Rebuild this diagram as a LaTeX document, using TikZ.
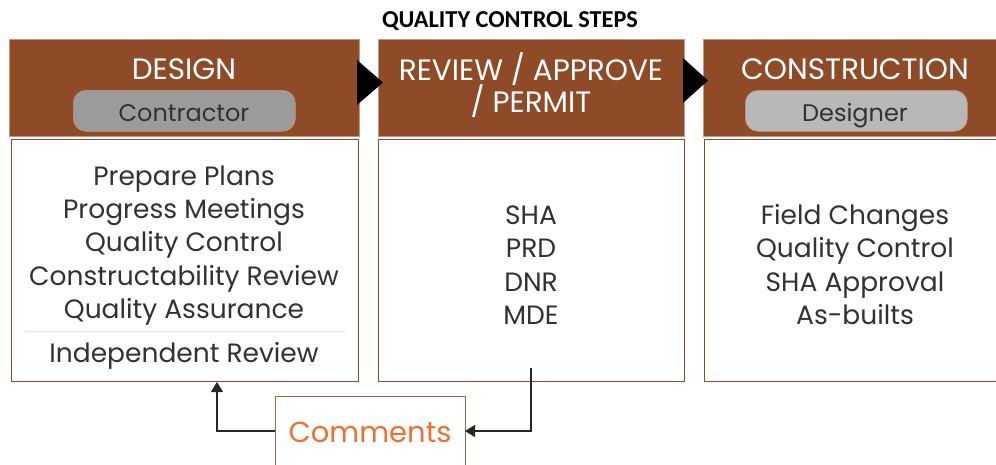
\documentclass[tikz,border=0pt]{standalone}
\usepackage{fontspec}
\setmainfont{Poppins}
\newfontfamily\titlefont{Carlito}
\usetikzlibrary{arrows.meta}
\definecolor{brn}{RGB}{143,74,40}
\definecolor{hdredge}{RGB}{200,150,125}
\definecolor{pillA}{RGB}{155,155,155}
\definecolor{pillB}{RGB}{184,184,184}
\definecolor{txt}{RGB}{50,50,50}
\definecolor{orng}{RGB}{240,112,48}
\definecolor{divl}{RGB}{225,225,225}
\tikzset{
  header/.style={fill=brn, draw=hdredge, line width=0.8pt, anchor=north west, inner sep=0pt},
  bodybox/.style={draw=brn, line width=1.4pt, fill=white, anchor=north west, inner sep=0pt},
  pill/.style={rounded corners=13pt, draw=hdredge, line width=0.6pt, anchor=north west, inner sep=0pt},
  htext/.style={text=white, font=\fontsize{29.5}{34}\selectfont, anchor=base, inner sep=0pt},
  ptext/.style={text=txt, font=\fontsize{24}{28}\selectfont, anchor=base, inner sep=0pt},
  btext/.style={text=txt, font=\fontsize{26.5}{31}\selectfont, anchor=base, inner sep=0pt},
  flow/.style={fill=black, draw=none},
  conn/.style={draw=black!85, line width=1.2pt, -{Triangle[length=10pt,width=12pt]}}
}
\begin{document}
\begin{tikzpicture}[x=1pt,y=-1pt]
\useasboundingbox (0,0) rectangle (996,464);
\clip (0,0) rectangle (996,464);
% title
\node[font=\titlefont\bfseries\fontsize{24.3}{28}\selectfont, anchor=base, inner sep=0pt] (title) at (510,27) {QUALITY CONTROL STEPS};
% headers
\node[header, minimum width=350pt, minimum height=97pt] (h1) at (9,39) {};
\node[header, minimum width=306pt, minimum height=97pt] (h2) at (378,39) {};
\node[header, minimum width=300pt, minimum height=97pt] (h3) at (703,39) {};
% flow triangles
\fill[flow] (357,60) -- (383,82.5) -- (357,105) -- cycle;
\fill[flow] (683,58) -- (708,80.5) -- (683,103) -- cycle;
% header texts
\node[htext] (t1) at (184,79) {DESIGN};
\node[htext] (t2a) at (531,80) {REVIEW / APPROVE};
\node[htext] (t2b) at (531,112) {/ PERMIT};
\node[htext] (t3) at (855,79) {CONSTRUCTION};
% pills
\node[pill, fill=pillA, minimum width=222pt, minimum height=41pt] (p1) at (73,90) {};
\node[pill, fill=pillB, minimum width=222pt, minimum height=41pt] (p3) at (745,90) {};
\node[ptext] (p1t) at (184,121) {Contractor};
\node[ptext] (p3t) at (855,121) {Designer};
% body boxes
\node[bodybox, minimum width=347pt, minimum height=242pt] (b1) at (11,139) {};
\node[bodybox, minimum width=306pt, minimum height=242pt] (b2) at (378,139) {};
\node[bodybox, minimum width=320pt, minimum height=242pt] (b3) at (704,139) {};
% left body text
\node[btext] (l1) at (184,185) {Prepare Plans};
\node[btext] (l2) at (184,218.3) {Progress Meetings};
\node[btext] (l3) at (184,251.7) {Quality Control};
\node[btext] (l4) at (184,285) {Constructability Review};
\node[btext] (l5) at (184,318) {Quality Assurance};
\coordinate (d1) at (25,331.5);
\coordinate (d2) at (345,331.5);
\draw[divl, line width=0.8pt] (d1) -- (d2);
\node[btext] (l6) at (184,362) {Independent Review};
% middle body text
\node[btext] (m1) at (531,224.3) {SHA};
\node[btext] (m2) at (531,257.7) {PRD};
\node[btext] (m3) at (531,291) {DNR};
\node[btext] (m4) at (531,324.3) {MDE};
% right body text
\node[btext] (r1) at (855,224.3) {Field Changes};
\node[btext] (r2) at (855,257.7) {Quality Control};
\node[btext] (r3) at (855,291) {SHA Approval};
\node[btext] (r4) at (855,324.3) {As-builts};
% comments
\node[draw=brn!85, line width=1.4pt, fill=white, anchor=north west, minimum width=190pt, minimum height=90pt, inner sep=0pt] (cbox) at (275,396) {};
\node[text=orng, font=\fontsize{29}{34}\selectfont, anchor=base, inner sep=0pt] (ctext) at (370,442) {Comments};
% connectors
\coordinate (cw) at (275,431);
\coordinate (ce) at (465,431);
\coordinate (la) at (217,382);
\coordinate (rs) at (531,368);
\draw[conn] (cw) -| (la);
\draw[conn] (rs) |- (ce);
\end{tikzpicture}
\end{document}
